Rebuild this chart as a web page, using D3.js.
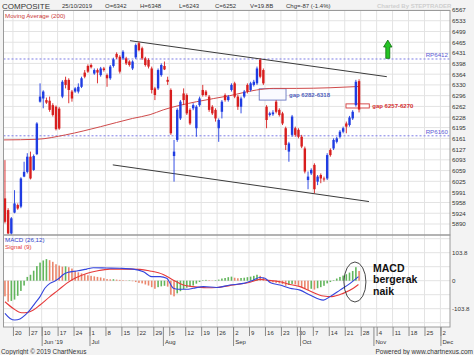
<!DOCTYPE html>
<html><head><meta charset="utf-8">
<script src="https://cdn.jsdelivr.net/npm/d3@7"></script>
<style>
html,body{margin:0;padding:0;background:#f3f3f3;}
svg{display:block;}
</style></head><body>
<svg id="c" width="474" height="355"></svg>
<script>
// ---------- data ----------
const open=[5971,5934,5860,5926,5950,5945,6040,6055,6103,6061,
6111,6277,6287,6282,6280,6266,6261,6255,6293,6346,
6346,6309,6309,6309,6324,6369,6390,6393,6366,6377,
6361,6382,6361,6351,6390,6428,6419,6414,6414,6404,
6382,6417,6462,6446,6414,6409,6382,6319,6319,6361,
6390,6346,6314,6105,6156,6224,6303,6298,6251,6256,
6193,6266,6314,6309,6293,6261,6251,6193,6245,6298,
6282,6314,6335,6293,6261,6293,6330,6314,6330,6335,
6409,6377,6261,6235,6237,6277,6251,6240,6193,6119,
6172,6193,6188,6166,6129,6029,6050,6077,6024,6045,
6034,6034,6124,6129,6150,6166,6182,6208,6203,6224,
6266,6342];
const high=[6092,5940,5912,5997,5955,6038,6087,6114,6119,6110,
6212,6335,6313,6290,6293,6272,6265,6260,6345,6356,
6351,6314,6323,6335,6356,6377,6395,6398,6382,6382,
6387,6387,6366,6393,6416,6433,6424,6440,6419,6408,
6408,6461,6467,6451,6419,6414,6388,6324,6382,6398,
6404,6356,6319,6156,6256,6282,6319,6303,6256,6272,
6266,6293,6330,6314,6298,6266,6256,6224,6282,6303,
6298,6335,6340,6298,6293,6314,6335,6340,6346,6388,
6414,6382,6266,6245,6250,6282,6256,6245,6198,6150,
6235,6198,6193,6172,6135,6056,6066,6082,6045,6050,
6040,6114,6129,6161,6166,6187,6198,6214,6232,6250,
6346,6348];
const low=[5892,5858,5856,5924,5935,5940,6038,6050,6031,6058,
6108,6274,6256,6270,6245,6230,6186,6188,6288,6319,
6272,6277,6305,6303,6320,6351,6368,6382,6362,6335,
6356,6372,6324,6346,6385,6412,6366,6409,6393,6388,
6377,6412,6436,6409,6388,6382,6303,6282,6314,6356,
6377,6330,6172,6024,6150,6219,6266,6235,6203,6250,
6166,6261,6293,6293,6245,6235,6214,6150,6224,6277,
6277,6309,6288,6251,6240,6288,6303,6309,6325,6330,
6351,6330,6193,6230,6232,6240,6230,6203,6124,6087,
6166,6166,6161,6130,6050,6000,6045,5987,6013,6019,
6024,6029,6103,6124,6145,6161,6177,6177,6198,6219,
6261,6243];
const close=[5897,5860,5908,5955,5939,6034,6055,6103,6034,6105,
6208,6293,6309,6274,6251,6235,6190,6192,6340,6330,
6314,6287,6319,6324,6351,6356,6372,6386,6377,6369,
6382,6377,6351,6388,6411,6417,6372,6435,6398,6393,
6404,6456,6440,6414,6393,6388,6314,6298,6377,6393,
6379,6340,6177,6119,6251,6277,6282,6240,6208,6266,
6261,6287,6298,6298,6251,6240,6224,6219,6277,6282,
6293,6330,6293,6261,6287,6309,6309,6335,6340,6382,
6356,6335,6219,6240,6243,6245,6235,6208,6140,6145,
6230,6172,6166,6135,6056,6040,6061,6000,6040,6034,
6031,6108,6108,6156,6161,6182,6193,6198,6227,6245,
6340,6252];

// moving average (200) read at points along the line
const maIdx=[-0.3,10,19,30,40,45.5,49.6,60.1,70.5,78.9,84.1,91.4,101.9,111];
const maVal=[6156,6158,6172,6198,6224,6236,6251,6277,6296,6314,6319,6319,6321,6325];

// MACD histogram, one per candle
const hist=[-58,-78,-75,-70,-56,-38,-18,14,22,37,
54,67,75,80,76,70,61,56,52,53,
50,45,37,31,27,23,20,18,16,14,
12,9,6,5,5.5,4,3,2,1,1.5,
-2,-5,-8,-10,-14,-18,-24,-30,-24,-21,
-19,-22,-52,-58,-47,-39,-31,-26,-22,-18,
-11,-5,2,3,2,1,2,4,8,10,
13,15,11,9,10,11,13,15,18,22,
18,12,2,-3,-6,-8,-10,-13,-19,-16,
-12,-14,-19,-24,-31,-34,-30,-33,-28,-24,
-19,-10,-5,2,8,14,19,24,30,36,
50,36];
const macdIdx=[0,1.6,3.1,4.7,6.3,7.8,9.4,11,12.5,14.1,15.7,17,18.3,19.8,22.5,25.6,27.7,31.9,36,40.2,43.4,46,48.6,50.7,52.8,54.3,57,59,62.2,66.4,70.5,74.7,77.8,79.9,81.5,83.1,86.2,89.3,92.5,95.6,99.8,101.9,105,108.2,110.8];
const macdVal=[-121,-140,-146,-142,-128,-109,-84,-59,-28,-10,-1,9,23,31,36,43,48,47,46,43,33,15,15,9,-28,-32,-32,-28,-22,-25,-16,-10,2,12,9,-7,-16,-28,-35,-53,-72,-59,-35,-10,15];
const sigIdx=[0,2.6,5.2,7.3,8.9,11,14.1,16.7,19.3,21.9,25.6,28.7,32.9,38.1,42.3,45.5,49.6,52.8,55.9,59,63.2,66.4,71.6,76.8,79.9,82,86.2,89.3,92.5,95.6,99.8,102.4,106,109.2,110.8];
const sigVal=[-78,-103,-119,-117,-109,-90,-59,-35,-10,9,27,36,43,43,42,36,23,2,-16,-22,-26,-25,-16,-6,5,2,-4,-14,-22,-38,-57,-59,-47,-28,-14];

// tick labels
const priceTicks=[6567,6533,6499,6465,6431,6398,6364,6330,6296,6262,6228,6195,6161,6127,6093,6059,6025,5991,5958,5924,5890];
const macdTicks=[103.8,0,-103.8];
const weekIdx=[3,8,12,17,22,27,32,37,42,47,52,57,62,67,72,77,82,87,92,97,102,107,112,117,122,127,132,137];
const weekLbl=['20','27','10','17','24','1','8','15','22','29','5','12','19','26','2','9','16','23','30','7','14','21','28','4','11','18','25','2'];
const monthIdx=[12,27,50,72,93,116,137];
const monthLbl=["Jun '19","Jul","Aug","Sep","Oct","Nov","Dec"];

// drawn annotations
const rpVal=[6412,6169];
const rpLbl=['RP6412','RP6160'];
const trendAIdx=[39.2,119.7], trendAVal=[6470,6356];
const trendBIdx=[33.8,114.1], trendBVal=[6077,5961];
const gapFrom=[79.7,106.9], gapTo=[88.1,114.2], gapLo=[6282,6257], gapHi=[6318,6270];
const gapLbl=['gap 6282-6318','gap 6257-6270'];
const arrowIdx=120, arrowFrom=6414, arrowTo=6472;
const circleIdx=109.7, circleVal=-4.8;
const noteLines=['MACD','bergerak','naik'];
const header=['25/10/2019','O=6342','H=6348','L=6243','C=6252','V=19.8B','Chg=-87 (-1.4%)'];

// ---------- drawing ----------
const FONT='"Liberation Sans", Arial, sans-serif';
const W=474,H=355, L=3.5, R=450, PT=10.5, PB=235, MB=327;
const svg=d3.select('#c').attr('font-family',FONT);
const x=d3.scaleLinear().domain([-0.3,139.5]).range([4,450]);
const y=d3.scaleLinear().domain([5855.2,6567]).range([235,10]);
const ym=d3.scaleLinear().domain([-171.7,169.4]).range([327,235]);

svg.append('rect').attr('width',W).attr('height',H).attr('fill','#f3f3f3');
svg.append('rect').attr('x',L).attr('y',PT).attr('width',R-L).attr('height',MB-PT).attr('fill','#ffffff');

// grid
const grid=svg.append('g').attr('stroke','#e3e3e3').attr('stroke-width',1);
priceTicks.forEach(v=>grid.append('line').attr('x1',L).attr('x2',R).attr('y1',y(v)).attr('y2',y(v)));
[-155.7,-103.8,-51.9,0,51.9,103.8,155.7].forEach(v=>grid.append('line').attr('x1',L).attr('x2',R).attr('y1',ym(v)).attr('y2',ym(v)));
weekIdx.forEach(i=>grid.append('line').attr('x1',x(i-0.5)).attr('x2',x(i-0.5)).attr('y1',PT).attr('y2',MB));

// RP lines
rpVal.forEach((v,k)=>{
  svg.append('line').attr('x1',L).attr('x2',R).attr('y1',y(v)).attr('y2',y(v))
    .attr('stroke','#7d7de6').attr('stroke-dasharray','2,2').attr('stroke-width',1);
  svg.append('text').attr('x',448).attr('y',y(v)-2.3).attr('text-anchor','end')
    .attr('font-size',6.2).attr('fill','#5c5cd6').text(rpLbl[k]);
});

// gap boxes
const gapStroke=['#6a78c2','#d23a3a'], gapFill=['#fafaff','#ffffff'], gapText=['#5262bd','#d42f2f'];
gapFrom.forEach((f,k)=>{
  svg.append('rect').attr('x',x(f)).attr('y',y(gapHi[k])).attr('width',x(gapTo[k])-x(f))
    .attr('height',y(gapLo[k])-y(gapHi[k])).attr('fill',gapFill[k]).attr('stroke',gapStroke[k]).attr('stroke-width',0.9);
  svg.append('text').attr('x',x(gapTo[k])+3).attr('y',y((gapLo[k]+gapHi[k])/2)+2.2)
    .attr('font-size',6).attr('font-weight','bold').attr('fill',gapText[k]).text(gapLbl[k]);
});

// moving average
svg.append('path').datum(maIdx.map((d,i)=>[d,maVal[i]]))
  .attr('d',d3.line().x(d=>x(d[0])).y(d=>y(d[1])).curve(d3.curveMonotoneX))
  .attr('fill','none').attr('stroke','#cf4a4a').attr('stroke-width',1);

// trend lines
[[trendAIdx,trendAVal],[trendBIdx,trendBVal]].forEach(t=>{
  svg.append('line').attr('x1',x(t[0][0])).attr('y1',y(t[1][0])).attr('x2',x(t[0][1])).attr('y2',y(t[1][1]))
    .attr('stroke','#3a3a3a').attr('stroke-width',1);
});

// candles
const UP='#1f3ce2', DN='#d81e1e';
const cg=svg.append('g');
const idx=d3.range(close.length);
const cs=cg.selectAll('g').data(idx).join('g');
cs.append('line').attr('x1',i=>x(i)).attr('x2',i=>x(i)).attr('y1',i=>y(high[i])).attr('y2',i=>y(low[i]))
  .attr('stroke',i=>close[i]>=open[i]?UP:DN).attr('stroke-width',0.9);
cs.append('rect').attr('x',i=>x(i)-1.2).attr('width',2.4)
  .attr('y',i=>y(Math.max(open[i],close[i])))
  .attr('height',i=>Math.max(1,Math.abs(y(open[i])-y(close[i]))))
  .attr('fill',i=>close[i]>=open[i]?UP:DN);

// green arrow
{
  const ax=x(arrowIdx), yb=y(arrowFrom), yt=y(arrowTo);
  const pts=[[ax-2,yb],[ax-2,yt+7],[ax-4.2,yt+7],[ax,yt],[ax+4.2,yt+7],[ax+2,yt+7],[ax+2,yb]];
  svg.append('polygon').attr('points',pts.map(p=>p.join(',')).join(' '))
    .attr('fill','#25c425').attr('stroke','#0f6f0f').attr('stroke-width',0.8);
}

// MACD histogram
svg.append('g').selectAll('rect').data(idx).join('rect')
  .attr('x',i=>x(i)-0.8).attr('width',1.6)
  .attr('y',i=>Math.min(ym(0),ym(hist[i])))
  .attr('height',i=>Math.abs(ym(hist[i])-ym(0)))
  .attr('fill',i=>(i>0&&hist[i]>=hist[i-1])?'#62b55c':'#ea866c');
// MACD / signal lines
const mline=d3.line().x(d=>x(d[0])).y(d=>ym(d[1])).curve(d3.curveMonotoneX);
svg.append('path').datum(sigIdx.map((d,i)=>[d,sigVal[i]])).attr('d',mline)
  .attr('fill','none').attr('stroke','#e63a3a').attr('stroke-width',1.1);
svg.append('path').datum(macdIdx.map((d,i)=>[d,macdVal[i]])).attr('d',mline)
  .attr('fill','none').attr('stroke','#3344dd').attr('stroke-width',1.1);

// ellipse + note
svg.append('ellipse').attr('cx',x(circleIdx)).attr('cy',ym(circleVal)).attr('rx',11).attr('ry',20)
  .attr('fill','none').attr('stroke','#333').attr('stroke-width',0.9);
noteLines.forEach((t,k)=>svg.append('text').attr('x',373).attr('y',272.3+k*11.1)
  .attr('font-family','"Liberation Sans Narrow","Liberation Sans",Arial,sans-serif')
  .attr('font-size',10.5).attr('font-weight','bold').attr('fill','#111').text(t));

// panel borders
svg.append('rect').attr('x',L).attr('y',PT).attr('width',R-L).attr('height',PB-PT).attr('fill','none').attr('stroke','#9a9a9a');
svg.append('rect').attr('x',L).attr('y',PB).attr('width',R-L).attr('height',MB-PB).attr('fill','none').attr('stroke','#9a9a9a');

// right axes
const ay=svg.append('g').attr('transform',`translate(${R},0)`)
  .call(d3.axisRight(y).tickValues(priceTicks).tickSize(0).tickPadding(2).tickFormat(d3.format('d')));
ay.select('.domain').remove();
ay.attr('font-family',FONT).attr('font-size',6.2);
ay.selectAll('text').attr('fill','#333');
const am=svg.append('g').attr('transform',`translate(${R},0)`)
  .call(d3.axisRight(ym).tickValues(macdTicks).tickSize(0).tickPadding(2).tickFormat(d=>String(d)));
am.select('.domain').remove();
am.attr('font-family',FONT).attr('font-size',6.2);
am.selectAll('text').attr('fill','#333');

// bottom axes
const aw=svg.append('g').attr('transform',`translate(0,${MB})`)
  .call(d3.axisBottom(x).tickValues(weekIdx.map(d=>d-0.5)).tickSize(9).tickFormat((d,i)=>weekLbl[i]));
aw.select('.domain').remove();
aw.attr('font-family',FONT).attr('font-size',6);
aw.selectAll('line').attr('stroke','#8a8a8a');
aw.selectAll('text').attr('text-anchor','start').attr('x',1.6).attr('y',4).attr('dy','0.71em').attr('fill','#333');
const amo=svg.append('g').attr('transform',`translate(0,${MB})`)
  .call(d3.axisBottom(x).tickValues(monthIdx.map(d=>d-0.5)).tickSize(19).tickFormat((d,i)=>monthLbl[i]));
amo.select('.domain').remove();
amo.attr('font-family',FONT).attr('font-size',6);
amo.selectAll('line').attr('stroke','#8a8a8a');
amo.selectAll('text').attr('text-anchor','start').attr('x',1.6).attr('y',13.2).attr('dy','0.71em').attr('fill','#333');

// header
svg.append('text').attr('x',2).attr('y',9.2).attr('font-size',8).attr('fill','#333').text('COMPOSITE');
const hx=[62,105,140,179,215,250,286];
header.forEach((t,k)=>svg.append('text').attr('x',hx[k]).attr('y',8.4).attr('font-size',6).attr('fill','#333').text(t));
svg.append('text').attr('x',377).attr('y',8.4).attr('font-size',6).attr('font-weight','bold').attr('fill','#cfcfcf').text('Charted By STEPTRADER');
svg.append('text').attr('x',5).attr('y',18).attr('font-size',6.2).attr('fill','#cc3a3a').text('Moving Average (200)');
svg.append('text').attr('x',5).attr('y',241.5).attr('font-size',6.2).attr('fill','#3344cc').text('MACD (26,12)');
svg.append('text').attr('x',5).attr('y',248.5).attr('font-size',6.2).attr('fill','#e63a3a').text('Signal (9)');

// footer
svg.append('text').attr('x',1).attr('y',354).attr('font-size',6.4).attr('fill','#333').text('Copyright \u00a9 2019 ChartNexus');
svg.append('text').attr('x',473).attr('y',354).attr('text-anchor','end').attr('font-size',6.5).attr('fill','#333').text('Powered by www.chartnexus.com');
</script>
</body></html>
